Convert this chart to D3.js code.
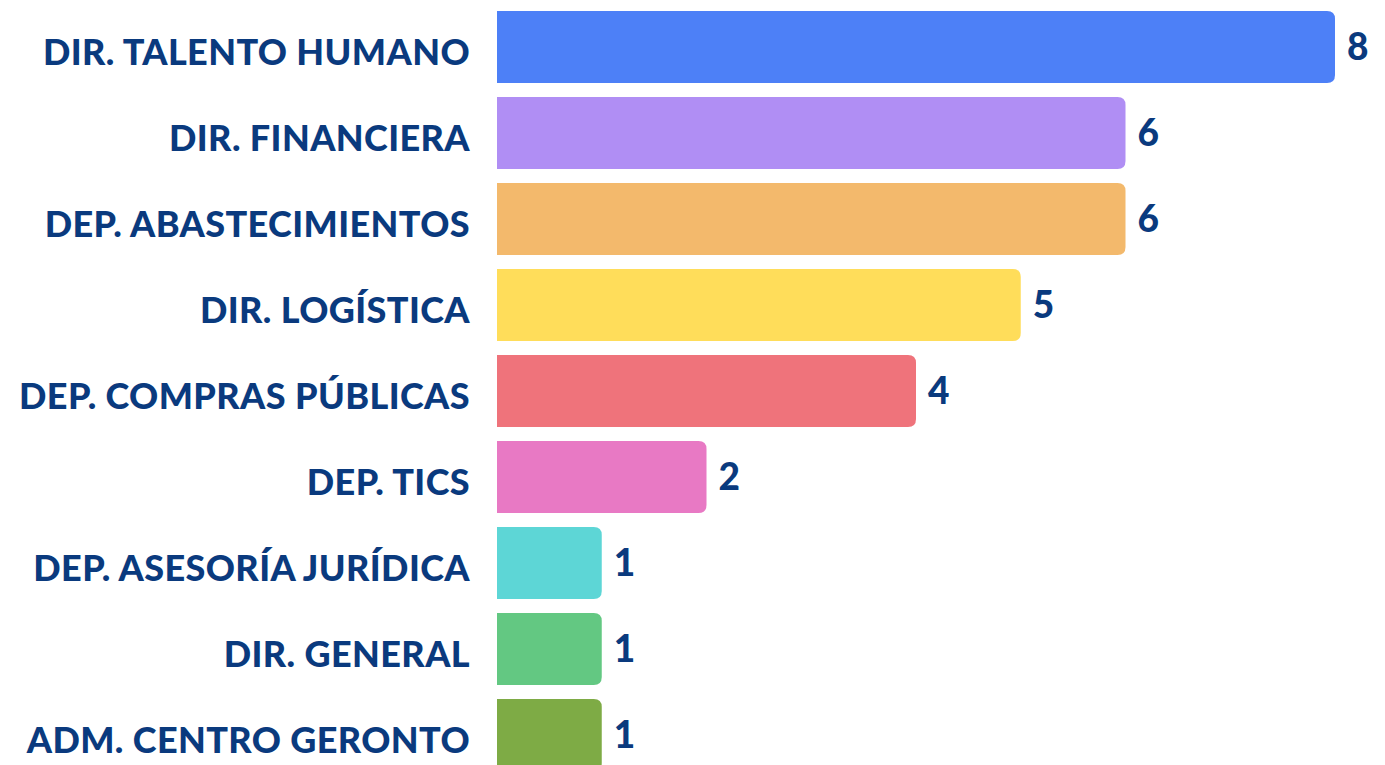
<!DOCTYPE html>
<html>
<head>
<meta charset="utf-8">
<script src="https://cdn.jsdelivr.net/npm/d3@7"></script>
<style>
  html, body { margin: 0; padding: 0; background: #ffffff; }
  svg { display: block; }
  text { font-family: "Lato", "Liberation Sans", sans-serif; font-weight: 900; fill: #0a3a7e; }
</style>
</head>
<body>
<svg id="chart" width="1385" height="765"></svg>
<script>
// Personal por dependencia
const categories = [
  "DIR. TALENTO HUMANO",
  "DIR. FINANCIERA",
  "DEP. ABASTECIMIENTOS",
  "DIR. LOGÍSTICA",
  "DEP. COMPRAS PÚBLICAS",
  "DEP. TICS",
  "DEP. ASESORÍA JURÍDICA",
  "DIR. GENERAL",
  "ADM. CENTRO GERONTO"
];
const values = [8, 6, 6, 5, 4, 2, 1, 1, 1];
const colors = [
  "#4d80f7", "#b08ef4", "#f3b96c", "#ffdd5a", "#ef737b",
  "#e879c4", "#5dd6d6", "#63c882", "#7eab45"
];

const svg = d3.select("#chart");

const x = d3.scaleLinear().domain([0, 8]).range([497, 1335]);
const y = d3.scaleBand()
  .domain(categories)
  .range([-3, 785])
  .paddingInner(14 / 86)
  .paddingOuter(14 / 86);

const radius = 8;

// bar with square left end and rounded right corners
function barPath(x0, x1, y0, h, r) {
  const rr = Math.min(r, (x1 - x0) / 2, h / 2);
  return `M${x0},${y0}H${x1 - rr}Q${x1},${y0} ${x1},${y0 + rr}` +
         `V${y0 + h - rr}Q${x1},${y0 + h} ${x1 - rr},${y0 + h}H${x0}Z`;
}

const data = categories.map((c, i) => ({ cat: c, val: values[i], color: colors[i] }));

svg.append("g").selectAll("path")
  .data(data)
  .join("path")
  .attr("d", d => barPath(x(0), x(d.val), y(d.cat), y.bandwidth(), radius))
  .attr("fill", d => d.color);

// category labels
const yAxis = d3.axisLeft(y).tickSize(0).tickPadding(27);
const gAxis = svg.append("g")
  .attr("transform", `translate(${x(0)},0)`)
  .call(yAxis);
gAxis.select(".domain").remove();
gAxis.selectAll("text")
  .attr("font-size", 36)
  .attr("letter-spacing", 0.4)
  .attr("font-family", null)
  .attr("fill", null)
  .attr("dy", "0.5em");

// value labels
svg.append("g").selectAll("text")
  .data(data)
  .join("text")
  .attr("x", d => x(d.val) + 12)
  .attr("y", d => y(d.cat) + y.bandwidth() / 2)
  .attr("dy", "0.36em")
  .attr("font-size", 37)
  .text(d => d.val);
</script>
</body>
</html>
